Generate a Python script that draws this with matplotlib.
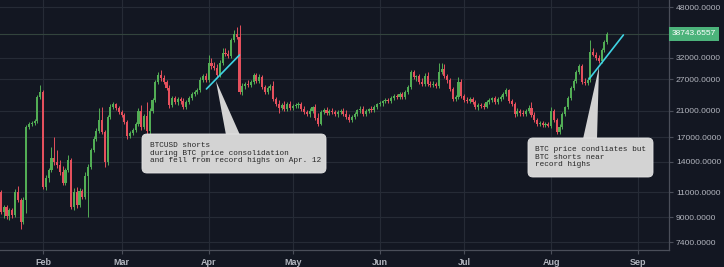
import matplotlib
matplotlib.use("Agg")
import matplotlib.pyplot as plt
import matplotlib.dates as mdates
import matplotlib.transforms as mtransforms
from matplotlib.patches import FancyBboxPatch, Polygon
from matplotlib.ticker import FuncFormatter, NullLocator, NullFormatter
import numpy as np
import pandas as pd

plt.rcParams["font.family"] = ["Liberation Sans", "DejaVu Sans"]

# daily candles (open, high, low, close), starting 2021-01-17
start_date = "2021-01-17"
jan_ohlc = [
    (11020, 11190, 9250, 9400), (9400, 9930, 8960, 9780), (9780, 9930, 8890, 9110),
    (9110, 9700, 8820, 9550), (9550, 9700, 8960, 9180), (9180, 11280, 9030, 11020),
    (11020, 11550, 10170, 10340), (10340, 10500, 8210, 8680), (8680, 10590, 8540, 10340),
    (10340, 18780, 9330, 18480), (18480, 19230, 18190, 18930), (18930, 19380, 18630, 19080),
    (19080, 19690, 18780, 19380), (19380, 23830, 19080, 23460), (23460, 25810, 23090, 24410),
]
feb_ohlc = [
    (24410, 24800, 11280, 11460), (11460, 12610, 11190, 12310), (12310, 13330, 11930, 13120),
    (13120, 15760, 12920, 14430), (14430, 17060, 13660, 13990), (13990, 15390, 13330, 13660),
    (13660, 14210, 12610, 12920), (12920, 13550, 11650, 11830), (11830, 13330, 11650, 13120),
    (13120, 14780, 12920, 14210), (14210, 14430, 9620, 9780), (9780, 11370, 9550, 11020),
    (11020, 11460, 9700, 9930), (9930, 11370, 9780, 11100), (11100, 11280, 10420, 10590),
    (10590, 12920, 10420, 12510), (12510, 13770, 9030, 13440), (13440, 15640, 13230, 15390),
    (15390, 17200, 15140, 16790), (16790, 18330, 16530, 17900), (17900, 21490, 17620, 19540),
    (19540, 21660, 17480, 17760), (17760, 18040, 13440, 13990), (13990, 20330, 13660, 20010),
    (20010, 22180, 19690, 21660), (21660, 22540, 21320, 22180), (22180, 22360, 21150, 21490),
    (21490, 21830, 20490, 20820),
]
mar_ohlc = [
    (20820, 21150, 20010, 20330), (20330, 20650, 18930, 19230), (19230, 19540, 16790, 17200),
    (17200, 17900, 16930, 17620), (17620, 18330, 17340, 18040), (18040, 19230, 17760, 18930),
    (18930, 21490, 18630, 20980), (20980, 22010, 18040, 18480), (18480, 20490, 18190, 20170),
    (20170, 22540, 17480, 17900), (17900, 21490, 17340, 20980), (20980, 23270, 20650, 22900),
    (22900, 26860, 22540, 26430), (26430, 28620, 26010, 27950), (27950, 29080, 26640, 27290),
    (27290, 27950, 26010, 26430), (26430, 26860, 24800, 25200), (25200, 25810, 21490, 22010),
    (22010, 23640, 21660, 23270), (23270, 23640, 22180, 22540), (22540, 23460, 22010, 23090),
    (23090, 23460, 22180, 22720), (22720, 23270, 21320, 21660), (21660, 22900, 21320, 22540),
    (22540, 23640, 22180, 23270), (23270, 24410, 22900, 24020), (24020, 24800, 23640, 24410),
    (24410, 25200, 24020, 24800), (24800, 27510, 24410, 26860), (26860, 28170, 26430, 27730),
    (27730, 28390, 26430, 26860),
]
apr_ohlc = [
    (26860, 32770, 26430, 30740), (30740, 31990, 29310, 30020), (30020, 30990, 29080, 29540),
    (29540, 30500, 27510, 27950), (27950, 31490, 27510, 30740), (30740, 34640, 30260, 33290),
    (33290, 34640, 32510, 33030), (33030, 34100, 31990, 32510), (32510, 37510, 31990, 36920),
    (36920, 39970, 36330, 38720), (38720, 40940, 37210, 37810), (37810, 41600, 24020, 24410),
    (24410, 26220, 23830, 25600), (25600, 26430, 25000, 26010), (26010, 26860, 25400, 25810),
    (25810, 26860, 25400, 26430), (26430, 28390, 26010, 27950), (27950, 28390, 26220, 26640),
    (26640, 28170, 26220, 27510), (27510, 27950, 25000, 25400), (25400, 25810, 24020, 24410),
    (24410, 25600, 24020, 25200), (25200, 26010, 24800, 25600), (25600, 26640, 22720, 23090),
    (23090, 23460, 21830, 22180), (22180, 22900, 20650, 21490), (21490, 22360, 21150, 22010),
    (22010, 22720, 20980, 21320), (21320, 22540, 20980, 22180), (22180, 22720, 21150, 21490),
]
may_ohlc = [
    (21490, 22180, 21150, 21830), (21830, 22360, 21490, 22010), (22010, 22540, 21490, 22180),
    (22180, 22540, 20980, 21320), (21320, 21830, 20490, 20820), (20820, 21150, 20170, 20490),
    (20490, 21490, 20010, 20980), (20980, 21830, 20650, 21660), (21660, 22180, 19540, 19850),
    (19850, 20650, 18630, 18930), (18930, 21150, 18780, 20820), (20820, 21490, 20490, 21150),
    (21150, 21660, 20330, 20650), (20650, 21320, 20330, 20980), (20980, 21490, 20490, 20820),
    (20820, 21150, 20170, 20490), (20490, 21150, 20010, 20820), (20820, 21320, 20490, 20980),
    (20980, 21490, 20170, 20490), (20490, 21150, 19690, 20010), (20010, 20490, 19230, 19540),
    (19540, 20330, 19230, 20010), (20010, 20820, 19690, 20490), (20490, 21320, 20170, 21150),
    (21150, 21830, 20650, 21320), (21320, 21830, 20170, 20490), (20490, 21320, 20170, 20980),
    (20980, 21490, 20650, 21320), (21320, 21830, 20820, 21150), (21150, 22010, 20820, 21660),
    (21660, 22360, 21320, 22180),
]
jun_ohlc = [
    (22180, 22720, 21830, 22360), (22360, 22900, 21830, 22720), (22720, 23270, 22360, 22900),
    (22900, 23270, 22360, 22720), (22720, 23640, 22360, 23270), (23270, 24020, 22900, 23640),
    (23640, 24020, 23090, 23460), (23460, 24410, 23090, 24020), (24020, 24410, 23090, 23460),
    (23460, 24800, 23090, 24410), (24410, 25810, 24020, 25400), (25400, 29080, 25000, 28620),
    (28620, 29080, 27070, 27510), (27510, 27950, 26640, 27730), (27730, 28170, 26010, 26430),
    (26430, 27290, 25600, 26010), (26010, 28390, 25600, 27730), (27730, 28620, 25600, 26010),
    (26010, 26640, 25400, 25810), (25810, 26640, 25400, 26010), (26010, 26430, 25200, 25600),
    (25600, 30740, 25200, 28620), (28620, 30740, 28170, 29310), (29310, 30500, 27290, 27730),
    (27730, 28170, 26220, 26860), (26860, 27290, 24600, 25000), (25000, 25400, 22720, 23090),
    (23090, 23830, 22720, 23460), (23460, 27510, 23090, 26430), (26430, 27070, 23270, 23640),
]
jul_ohlc = [
    (23640, 24020, 22540, 22900), (22900, 23460, 22360, 22720), (22720, 23460, 22360, 23090),
    (23090, 23460, 22180, 22540), (22540, 22900, 21320, 21660), (21660, 22360, 21150, 22010),
    (22010, 22360, 21490, 21830), (21830, 22360, 21320, 21660), (21660, 22900, 21490, 22540),
    (22540, 23270, 22180, 22900), (22900, 23460, 22540, 23270), (23270, 23640, 22180, 22540),
    (22540, 23460, 22180, 23090), (23090, 23830, 22720, 23460), (23460, 24410, 23090, 24020),
    (24020, 25200, 23640, 24800), (24800, 25000, 22360, 22720), (22720, 23090, 21830, 22180),
    (22180, 22540, 20010, 20490), (20490, 21490, 20170, 20980), (20980, 21320, 20170, 20650),
    (20650, 21150, 20170, 20490), (20490, 21320, 20170, 20980), (20980, 22010, 20650, 21490),
    (21490, 22540, 20010, 20330), (20330, 20820, 19230, 19540), (19540, 19850, 18630, 18930),
    (18930, 19380, 18630, 19080), (19080, 19380, 18480, 18780), (18780, 19230, 18480, 18930),
    (18930, 19230, 18480, 18630),
]
aug_ohlc = [
    (18630, 21660, 18330, 20980), (20980, 21320, 19230, 19540), (19540, 19850, 17480, 17760),
    (17760, 18930, 17480, 18480), (18480, 20820, 18190, 20490), (20490, 21830, 20170, 21660),
    (21660, 23640, 21320, 23270), (23270, 25600, 22900, 25200), (25200, 27070, 24800, 26640),
    (26640, 29080, 26220, 28620), (28620, 30500, 28170, 30020), (30020, 30500, 26010, 26430),
    (26430, 27290, 25810, 26220), (26220, 27510, 25810, 26860), (26860, 36920, 26430, 33560),
    (33560, 34640, 32510, 32770), (32770, 33560, 31490, 31990), (31990, 32770, 30740, 31240),
    (31240, 34640, 30740, 34100), (34100, 36920, 33560, 36330), (36330, 39340, 35760, 38743.6557),
]

price_ticks = [7400, 9000, 11000, 14000, 17000, 21000, 27000, 32000, 48000]
month_labels = ["Feb", "Mar", "Apr", "May", "Jun", "Jul", "Aug", "Sep"]

# trend lines drawn on the chart (date, price)
trend_1 = [("2021-03-31 05:00", 25000), ("2021-04-12 00:00", 32770)]
trend_2 = [("2021-08-14 13:00", 27070), ("2021-08-26 18:00", 38420)]

note_1 = "BTCUSD shorts\nduring BTC price consolidation\nand fell from record highs on Apr. 12"
note_2 = "BTC price condliates but\nBTC shorts near\nrecord highs"

bg = "#131722"
grid_col = "#262b36"
axis_col = "#4a4e59"
text_col = "#b2b5be"
up_col = "#52ad55"
down_col = "#e5505d"
cyan = "#3fd3e3"
box_col = "#d3d3d3"

ohlc = np.array(jan_ohlc + feb_ohlc + mar_ohlc + apr_ohlc + may_ohlc + jun_ohlc + jul_ohlc + aug_ohlc)
dates = pd.date_range(start_date, periods=len(ohlc), freq="D")
x = mdates.date2num(dates)
o, h, l, c = ohlc.T
colors = np.where(c >= o, up_col, down_col)

fig = plt.figure(figsize=(7.24, 2.67), dpi=100, facecolor=bg)
ax = fig.add_axes([0, 1 - 250 / 267, 669 / 724, 250 / 267], facecolor=bg)
ax.set_yscale("log")

ax.vlines(x, l, h, colors=colors, linewidth=0.7, zorder=3)
ax.bar(x, np.abs(c - o), bottom=np.minimum(o, c), width=0.75, color=colors,
       linewidth=0, zorder=3)

# last price line + label
last = c[-1]
ax.axhline(last, color="#33443d", linewidth=0.8, zorder=1)
btrans = mtransforms.blended_transform_factory(ax.transAxes, ax.transData)
ax.text(1.004, last, f"{last:.4f}", transform=btrans, fontsize=6, color="white",
        va="center", ha="left", clip_on=False,
        bbox=dict(boxstyle="square,pad=0.38", fc="#4cb37b", ec="none"))

# trend lines
for seg in (trend_1, trend_2):
    tx = mdates.date2num(pd.to_datetime([p[0] for p in seg], format="%Y-%m-%d %H:%M"))
    ty = [p[1] for p in seg]
    ax.plot(tx, ty, color=cyan, linewidth=1.2, zorder=4, solid_capstyle="round")

ax.set_xlim(mdates.date2num(pd.Timestamp("2021-01-16 16:00")),
            mdates.date2num(pd.Timestamp("2021-09-12")))
ax.set_ylim(6944, 50750)

month_ticks = mdates.date2num(pd.date_range("2021-02-01", "2021-09-01", freq="MS"))
ax.set_xticks(month_ticks)
ax.set_xticklabels(month_labels, fontweight="bold")
ax.yaxis.tick_right()
ax.set_yticks(price_ticks)
ax.yaxis.set_major_formatter(FuncFormatter(lambda v, p: f"{v:.4f}"))
ax.yaxis.set_minor_locator(NullLocator())
ax.yaxis.set_minor_formatter(NullFormatter())

ax.tick_params(axis="both", colors=axis_col, labelcolor=text_col, length=3, width=0.8)
ax.tick_params(axis="y", labelsize=6.1, pad=2)
ax.tick_params(axis="x", labelsize=6.5, pad=3)
ax.grid(True, color=grid_col, linewidth=0.8)
ax.set_axisbelow(True)
for side in ("left", "top"):
    ax.spines[side].set_visible(False)
for side in ("right", "bottom"):
    ax.spines[side].set_color(axis_col)
    ax.spines[side].set_linewidth(0.9)

# callout boxes (figure inches)
ftr = fig.dpi_scale_trans
callouts = [
    (1.42, 0.94, 1.84, 0.39, [(2.16, 1.86), (2.26, 1.32), (2.40, 1.32)], note_1, (1.495, 1.25)),
    (5.28, 0.90, 1.25, 0.39, [(5.99, 2.00), (5.83, 1.28), (5.97, 1.28)], note_2, (5.35, 1.21)),
]
for bx, by, bw, bh, tri, txt, tpos in callouts:
    ax.add_patch(Polygon(tri, closed=True, transform=ftr, fc=box_col, ec="none",
                         zorder=5, clip_on=False))
    ax.add_patch(FancyBboxPatch((bx, by), bw, bh, boxstyle="round,pad=0,rounding_size=0.05",
                                transform=ftr, fc=box_col, ec="#e6e6e6", linewidth=0.6,
                                zorder=5, clip_on=False))
    ax.text(tpos[0], tpos[1], txt, transform=ftr, fontsize=5.6, family="Liberation Mono",
            color="#262626", va="top", ha="left", linespacing=1.15, zorder=6)

fig.savefig("out.png", dpi=100, facecolor=bg)
